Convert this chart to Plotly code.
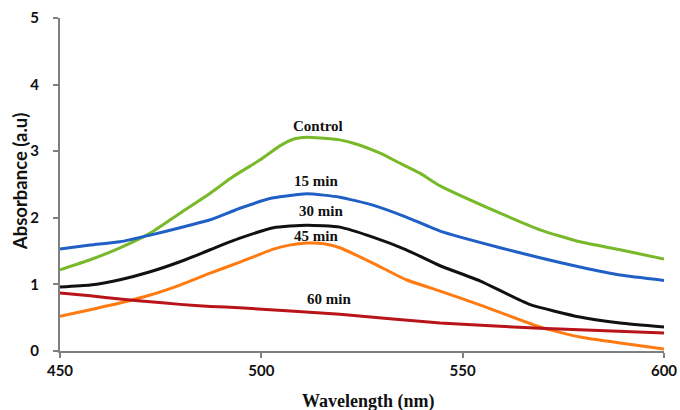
import plotly.graph_objects as go

# Control
wl_control = [450, 457.5, 464.9, 472.4, 479.8, 487.3, 493.0, 499.7, 504.6, 507.9, 511.3, 514.6,
              519.5, 524.5, 529.5, 534.4, 539.4, 544.4, 559.3, 569.2, 579.1, 589.1, 600]
abs_control = [1.22, 1.37, 1.55, 1.77, 2.07, 2.37, 2.62, 2.87, 3.08, 3.18, 3.21, 3.20,
               3.17, 3.09, 2.97, 2.82, 2.67, 2.48, 2.07, 1.82, 1.64, 1.52, 1.38]

# 15 min
wl_15 = [450, 457.5, 464.9, 472.4, 479.8, 487.3, 494.5, 503.0, 511.3, 519.5, 527.7, 536.0,
         544.4, 559.3, 569.2, 579.1, 589.1, 600]
abs_15 = [1.53, 1.59, 1.64, 1.74, 1.85, 1.97, 2.14, 2.30, 2.36, 2.31, 2.19, 2.01,
          1.80, 1.55, 1.40, 1.26, 1.14, 1.06]

# 30 min
wl_30 = [450, 457.5, 464.9, 472.4, 479.8, 487.3, 494.5, 503.0, 511.3, 519.5, 527.7, 536.0,
         544.4, 554.4, 566.6, 579.1, 589.1, 600]
abs_30 = [0.96, 0.99, 1.07, 1.19, 1.34, 1.52, 1.69, 1.85, 1.89, 1.86, 1.71, 1.52,
          1.28, 1.05, 0.70, 0.51, 0.42, 0.36]

# 45 min
wl_45 = [450, 457.5, 464.9, 472.4, 479.8, 487.3, 494.5, 503.0, 507.0, 511.3, 515.5, 519.5, 527.7, 536.0,
         544.4, 554.4, 569.2, 579.1, 589.1, 600]
abs_45 = [0.52, 0.62, 0.72, 0.84, 0.99, 1.17, 1.33, 1.53, 1.59, 1.62, 1.61, 1.55, 1.32, 1.07,
          0.90, 0.69, 0.36, 0.21, 0.12, 0.03]

# 60 min
wl_60 = [450, 457.5, 464.9, 472.4, 479.8, 487.3, 494.5, 519.5, 544.4, 569.2, 600]
abs_60 = [0.87, 0.83, 0.78, 0.74, 0.70, 0.67, 0.65, 0.55, 0.42, 0.34, 0.27]

series = [
    ("Control", wl_control, abs_control, "#78b92a"),
    ("15 min", wl_15, abs_15, "#1f5fc6"),
    ("30 min", wl_30, abs_30, "#111111"),
    ("45 min", wl_45, abs_45, "#ff7b12"),
    ("60 min", wl_60, abs_60, "#b8141a"),
]

labels = ["Control", "15 min", "30 min", "45 min", "60 min"]
label_x = [514.0, 513.6, 514.8, 513.6, 516.8]
label_y = [3.38, 2.55, 2.10, 1.73, 0.78]

fig = go.Figure()
for name, x, y, c in series:
    fig.add_trace(go.Scatter(x=x, y=y, mode="lines", name=name,
                             line=dict(color=c, width=3, shape="spline", smoothing=0.5)))

for t, x, y in zip(labels, label_x, label_y):
    fig.add_annotation(x=x, y=y, text=t, showarrow=False,
                       font=dict(family="Liberation Serif", size=15, color="#111111", weight="bold"))

# axis titles as annotations for precise placement
fig.add_annotation(xref="paper", yref="paper", x=0.51, y=-0.153, xanchor="center", yanchor="middle",
                   text="Wavelength (nm)", showarrow=False,
                   font=dict(family="Liberation Serif", size=18, color="#111111", weight="bold"))
fig.add_annotation(xref="paper", yref="paper", x=-0.066, y=0.5075, xanchor="center", yanchor="middle",
                   text="Absorbance (a.u)", textangle=-90, showarrow=False,
                   font=dict(family="Lato", size=18.5, color="#111111", weight="bold"))

axis_common = dict(showgrid=False, zeroline=False, showline=True, linecolor="#808080", linewidth=2,
                   ticks="outside", ticklen=5, tickwidth=2, tickcolor="#808080", automargin=False,
                   tickfont=dict(family="Lato", size=15, color="#111111", weight="bold"))

fig.update_xaxes(range=[450, 600], dtick=50, tick0=450, **axis_common)
fig.update_yaxes(range=[0, 5], dtick=1, tick0=0, ticklabelstandoff=11, **axis_common)

fig.update_layout(width=680, height=410, margin=dict(l=60, r=16, t=18, b=59),
                  paper_bgcolor="white", plot_bgcolor="white", showlegend=False)

fig.write_html("out.html", config={"displayModeBar": False},
               post_script="document.body.style.margin='0';document.body.style.overflow='hidden';")
